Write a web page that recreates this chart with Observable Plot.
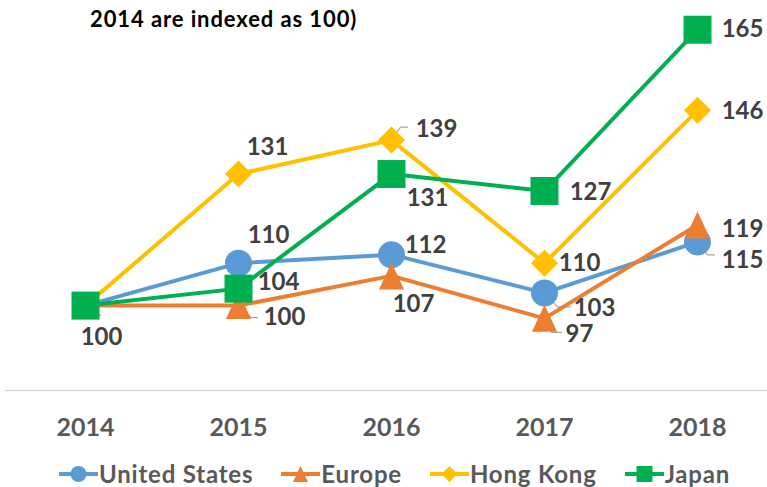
<!DOCTYPE html>
<html>
<head>
<meta charset="utf-8">
<script src="https://cdn.jsdelivr.net/npm/d3@7"></script>
<script src="https://cdn.jsdelivr.net/npm/@observablehq/plot@0.6"></script>
<style>
  html, body { margin: 0; padding: 0; background: #fff; }
  #wrap { position: relative; width: 767px; height: 487px; overflow: hidden; font-family: Lato, "Open Sans", sans-serif; }
  #chart { position: absolute; left: 0; top: 0; }
  #title { position: absolute; left: 90px; top: 5px; font-size: 22px; letter-spacing: 0.9px; font-weight: 700; color: #000; white-space: nowrap; }
  #legend { position: absolute; left: 59px; top: 459px; display: flex; align-items: center; font-size: 24px; letter-spacing: 0.8px; font-weight: 700; color: #595959; white-space: nowrap; }
  .item { display: flex; align-items: center; margin-right: 28px; }
  .item svg { margin-right: 1px; }
</style>
</head>
<body>
<div id="wrap">
  <div id="chart"></div>
  <div id="title">2014 are indexed as 100)</div>
  <div id="legend"></div>
</div>
<script>
// ---- data ----
const years = ["2014", "2015", "2016", "2017", "2018"];
const seriesNames = ["United States", "Europe", "Hong Kong", "Japan"];
const unitedStates = [100, 110, 112, 103, 115];
const europe = [100, 100, 107, 97, 119];
const hongKong = [100, 131, 139, 110, 146];
const japan = [100, 104, 131, 127, 165];
const seriesColors = ["#5B9BD5", "#ED7D31", "#FFC000", "#00B050"];

// ---- config (placement / style) ----
const valuesList = [unitedStates, europe, hongKong, japan];
const symCircle = {draw(c, size) { const h = Math.sqrt(size / Math.PI); c.moveTo(h, 0); c.arc(0, 0, h, 0, 2 * Math.PI); }};
const symTriangle = {draw(c, size) { const h = Math.sqrt(size / Math.PI); c.moveTo(0, -h); c.lineTo(0.93 * h, h); c.lineTo(-0.93 * h, h); c.closePath(); }};
const symDiamond = {draw(c, size) { const h = Math.sqrt(size / Math.PI); c.moveTo(0, -h); c.lineTo(h, 0); c.lineTo(0, h); c.lineTo(-h, 0); c.closePath(); }};
const symSquare = {draw(c, size) { const h = Math.sqrt(size / Math.PI); c.rect(-h, -h, 2 * h, 2 * h); }};
const symbols = [symCircle, symTriangle, symDiamond, symSquare];
const radii = [13.5, 13.5, 13.5, 14];

// label offsets [dx, dy] per series per year (null = hidden)
const labelOffsets = [
  [null, [30, -28], [34, -9], [50, 15], [45, 18]],
  [null, [46, 12], [22, 28], [35, 16], [45, 4]],
  [null, [29, -27], [45, -11], [35, 0], [45, 1]],
  [[16, 32], [40, -6], [36, 24], [46, 1], [45, 0]]
];
// leader lines: [series, yearIndex, [diagonal end dx, dy], horizontal end dx]
const leaders = [
  [3, 0, [15, 10], 15],
  [1, 1, [13, 12], 19],
  [2, 2, [9, -13], 16],
  [0, 3, [13, 14], 26],
  [1, 3, [7, 14], 17],
  [0, 4, [10, 13], 17],
  [2, 3, [9, 0], 9]
];

const rows = seriesNames.map((s, i) => years.map((y, j) => ({series: s, year: y, value: valuesList[i][j]})));

const marks = [
  Plot.ruleY([80], {stroke: "#d9d9d9", strokeWidth: 1.5})
];

for (const [si, yi, [ex, ey], hx] of leaders) {
  marks.push(Plot.vector([rows[si][yi]], {
    x: "year", y: "value", length: 1, rotate: 0, anchor: "start",
    stroke: "#a6a6a6", strokeWidth: 1.2, fill: "none",
    shape: {draw(c) { c.moveTo(0, 0); c.lineTo(ex, ey); c.lineTo(hx, ey); }}
  }));
}

seriesNames.forEach((s, i) => {
  marks.push(Plot.line(rows[i], {x: "year", y: "value", stroke: seriesColors[i], strokeWidth: 4, strokeLinejoin: "round"}));
  marks.push(Plot.dot(rows[i], {x: "year", y: "value", symbol: symbols[i], r: radii[i], fill: seriesColors[i], stroke: "none"}));
});

seriesNames.forEach((s, i) => {
  labelOffsets[i].forEach((off, j) => {
    if (!off) return;
    marks.push(Plot.text([rows[i][j]], {
      x: "year", y: "value", text: d => String(d.value),
      dx: off[0], dy: off[1], fill: "#404040", fontSize: 24, fontWeight: 700
    }));
  });
});

marks.push(Plot.axisX({tickSize: 0, tickPadding: 28, fontSize: 25, fontWeight: 700, fill: "#595959", label: null}));

const chart = Plot.plot({
  width: 767,
  height: 445,
  marginLeft: 5,
  marginRight: 0,
  marginTop: 8,
  marginBottom: 55,
  style: {fontFamily: "Lato, 'Open Sans', sans-serif", background: "white", overflow: "visible"},
  x: {type: "point", domain: years, range: [84, 698], padding: 0, label: null},
  y: {domain: [80, 170], axis: null},
  marks
});
document.getElementById("chart").appendChild(chart);

// legend
const legend = document.getElementById("legend");
seriesNames.forEach((s, i) => {
  const item = document.createElement("div");
  item.className = "item";
  const ns = "http://www.w3.org/2000/svg";
  const svg = document.createElementNS(ns, "svg");
  svg.setAttribute("width", 39); svg.setAttribute("height", 24);
  const line = document.createElementNS(ns, "line");
  line.setAttribute("x1", 0); line.setAttribute("x2", 39); line.setAttribute("y1", 12); line.setAttribute("y2", 12);
  line.setAttribute("stroke", seriesColors[i]); line.setAttribute("stroke-width", 4);
  svg.appendChild(line);
  const p = d3.path();
  symbols[i].draw(p, Math.PI * 8 * 8);
  const path = document.createElementNS(ns, "path");
  path.setAttribute("d", p.toString());
  path.setAttribute("transform", "translate(19.5,12)");
  path.setAttribute("fill", seriesColors[i]);
  svg.appendChild(path);
  item.appendChild(svg);
  const t = document.createElement("span");
  t.textContent = s;
  item.appendChild(t);
  legend.appendChild(item);
});
</script>
</body>
</html>
